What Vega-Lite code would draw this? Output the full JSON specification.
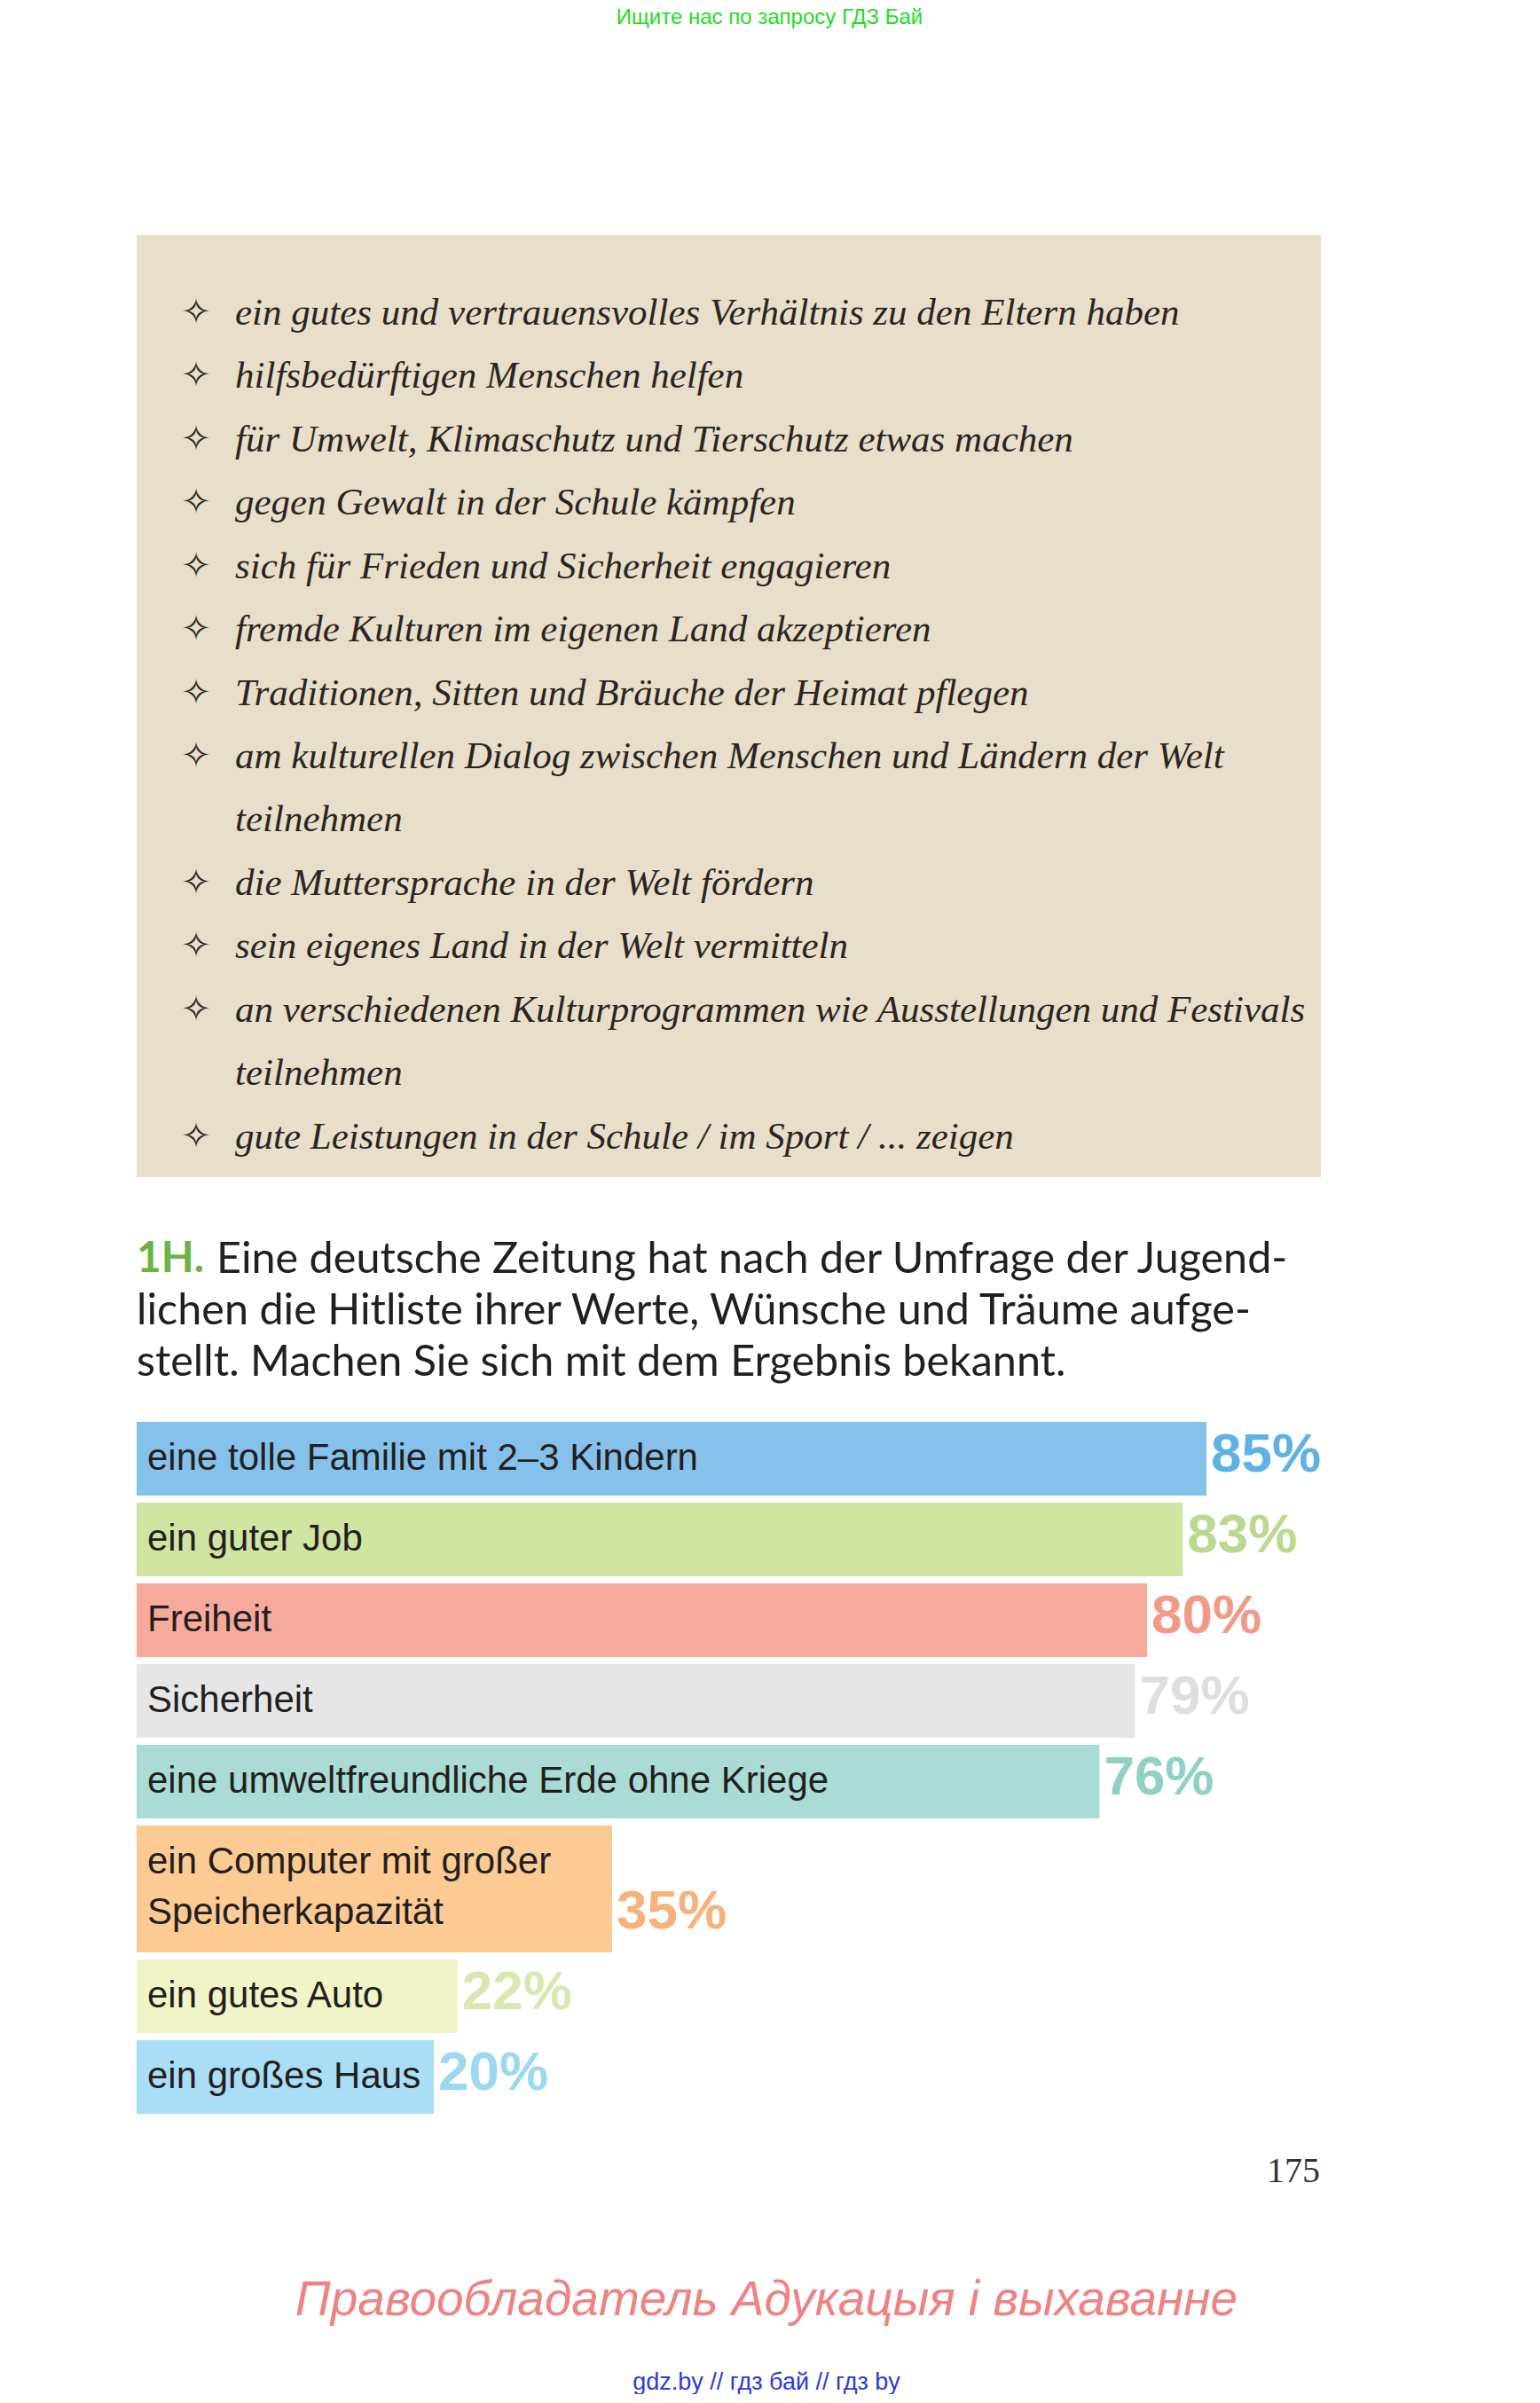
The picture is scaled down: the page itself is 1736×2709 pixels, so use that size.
{
  "$schema": "https://vega.github.io/schema/vega-lite/v6.json",
  "background": "white",
  "padding": {"left": 154, "top": 8, "right": 0, "bottom": 0},
  "autosize": {"type": "pad"},
  "config": {"view": {"stroke": null}, "font": "Liberation Sans"},
  "datasets": {
    "list": [
      {"n": 1, "bullet": "✧", "text": "ein gutes und vertrauensvolles Verhältnis zu den Eltern haben"},
      {"n": 2, "bullet": "✧", "text": "hilfsbedürftigen Menschen helfen"},
      {"n": 3, "bullet": "✧", "text": "für Umwelt, Klimaschutz und Tierschutz etwas machen"},
      {"n": 4, "bullet": "✧", "text": "gegen Gewalt in der Schule kämpfen"},
      {"n": 5, "bullet": "✧", "text": "sich für Frieden und Sicherheit engagieren"},
      {"n": 6, "bullet": "✧", "text": "fremde Kulturen im eigenen Land akzeptieren"},
      {"n": 7, "bullet": "✧", "text": "Traditionen, Sitten und Bräuche der Heimat pflegen"},
      {"n": 8, "bullet": "✧", "text": "am kulturellen Dialog zwischen Menschen und Ländern der Welt"},
      {"n": 9, "bullet": "", "text": "teilnehmen"},
      {"n": 10, "bullet": "✧", "text": "die Muttersprache in der Welt fördern"},
      {"n": 11, "bullet": "✧", "text": "sein eigenes Land in der Welt vermitteln"},
      {"n": 12, "bullet": "✧", "text": "an verschiedenen Kulturprogrammen wie Ausstellungen und Festivals"},
      {"n": 13, "bullet": "", "text": "teilnehmen"},
      {"n": 14, "bullet": "✧", "text": "gute Leistungen in der Schule / im Sport / ... zeigen"}
    ],
    "heading": [
      {"line": 1, "text": "Eine deutsche Zeitung hat nach der Umfrage der Jugend-"},
      {"line": 2, "text": "lichen die Hitliste ihrer Werte, Wünsche und Träume aufge-"},
      {"line": 3, "text": "stellt. Machen Sie sich mit dem Ergebnis bekannt."}
    ],
    "values": [
      {"item": "eine tolle Familie mit 2–3 Kindern", "pct": 0.85, "lines": 1},
      {"item": "ein guter Job", "pct": 0.83, "lines": 1},
      {"item": "Freiheit", "pct": 0.80, "lines": 1},
      {"item": "Sicherheit", "pct": 0.79, "lines": 1},
      {"item": "eine umweltfreundliche Erde ohne Kriege", "pct": 0.76, "lines": 1},
      {"item": "ein Computer mit großer\nSpeicherkapazität", "pct": 0.35, "lines": 2},
      {"item": "ein gutes Auto", "pct": 0.22, "lines": 1},
      {"item": "ein großes Haus", "pct": 0.20, "lines": 1}
    ],
    "footer": [
      {"page": "175"}
    ]
  },
  "spacing": 0,
  "vconcat": [
    {
      "width": 1335,
      "height": 1062,
      "view": {"fill": "#e7dfca", "stroke": null},
      "title": {
        "text": "Ищите нас по запросу ГДЗ Бай",
        "color": "#22dd22",
        "fontSize": 24,
        "fontWeight": "normal",
        "font": "Liberation Sans",
        "anchor": "middle",
        "dx": 46,
        "offset": 233
      },
      "data": {"name": "list"},
      "encoding": {
        "y": {"field": "n", "type": "ordinal", "axis": null, "scale": {"type": "point", "padding": 0.93, "align": 0.66}}
      },
      "layer": [
        {
          "mark": {"type": "text", "align": "center", "baseline": "middle", "font": "DejaVu Sans", "fontSize": 40, "color": "#2b2521", "dx": 67},
          "encoding": {"x": {"value": 0}, "text": {"field": "bullet"}}
        },
        {
          "mark": {"type": "text", "align": "left", "baseline": "middle", "font": "Liberation Serif", "fontStyle": "italic", "fontSize": 43, "color": "#2b2521", "dx": 111},
          "encoding": {"x": {"value": 0}, "text": {"field": "text"}}
        }
      ]
    },
    {
      "width": 1335,
      "height": 232,
      "data": {"name": "heading"},
      "encoding": {
        "y": {"field": "line", "type": "ordinal", "axis": null, "scale": {"type": "point", "padding": 1, "align": 0.8}}
      },
      "layer": [
        {
          "transform": [{"filter": "datum.line == 1"}],
          "mark": {"type": "text", "align": "left", "baseline": "middle", "font": "Lato", "fontSize": 48, "fontWeight": "bold", "color": "#6ab344"},
          "encoding": {"x": {"value": 0}, "text": {"value": "1H."}}
        },
        {
          "transform": [{"filter": "datum.line == 1"}],
          "mark": {"type": "text", "align": "left", "baseline": "middle", "font": "Lato", "fontSize": 48.5, "color": "#231f20", "dx": 90},
          "encoding": {"x": {"value": 0}, "text": {"field": "text"}}
        },
        {
          "transform": [{"filter": "datum.line > 1"}],
          "mark": {"type": "text", "align": "left", "baseline": "middle", "font": "Lato", "fontSize": 48.5, "color": "#231f20"},
          "encoding": {"x": {"value": 0}, "text": {"field": "text"}}
        }
      ]
    },
    {
      "width": 1407,
      "height": 826,
      "data": {"name": "values"},
      "transform": [
        {"stack": "lines", "groupby": [], "sort": [{"field": "pct", "order": "descending"}], "as": ["y0", "y1"]}
      ],
      "encoding": {
        "y": {"field": "y0", "type": "quantitative", "axis": null, "scale": {"domain": [0, 5, 7, 9], "range": [38, 493, 644, 826]}}
      },
      "layer": [
        {
          "mark": {"type": "rect", "yOffset": 4, "y2Offset": -4},
          "encoding": {
            "y2": {"field": "y1"},
            "x": {"field": "pct", "type": "quantitative", "axis": null, "scale": {"domain": [-0.05, 1], "nice": false, "zero": false}},
            "x2": {"datum": -0.05},
            "color": {
              "field": "item", "type": "nominal", "legend": null,
              "scale": {
                "domain": ["eine tolle Familie mit 2–3 Kindern", "ein guter Job", "Freiheit", "Sicherheit", "eine umweltfreundliche Erde ohne Kriege", "ein Computer mit großer\nSpeicherkapazität", "ein gutes Auto", "ein großes Haus"],
                "range": ["#85c1ea", "#d1e4a1", "#f6aa9c", "#e6e6e6", "#aadcd5", "#fccb93", "#f1f4c6", "#a9def6"]
              }
            }
          }
        },
        {
          "mark": {"type": "text", "align": "left", "baseline": "middle", "dx": 12, "yOffset": 45, "fontSize": 42, "color": "#231f20", "lineBreak": "\n", "lineHeight": 57},
          "encoding": {
            "x": {"datum": -0.05},
            "text": {"field": "item"}
          }
        },
        {
          "mark": {"type": "text", "align": "left", "baseline": "middle", "dx": 5, "yOffset": -50, "fontSize": 62, "fontWeight": "bold"},
          "encoding": {
            "x": {"field": "pct", "type": "quantitative"},
            "y": {"field": "y1", "type": "quantitative"},
            "text": {"field": "pct", "format": ".0%"},
            "color": {
              "field": "item", "type": "nominal", "legend": null,
              "scale": {
                "domain": ["eine tolle Familie mit 2–3 Kindern", "ein guter Job", "Freiheit", "Sicherheit", "eine umweltfreundliche Erde ohne Kriege", "ein Computer mit großer\nSpeicherkapazität", "ein gutes Auto", "ein großes Haus"],
                "range": ["#5eb3e4", "#bcd98f", "#f29a88", "#dedede", "#8fd2c5", "#f7b17d", "#d9e7b0", "#9dd8f3"]
              }
            }
          }
        }
      ],
      "resolve": {"scale": {"color": "independent"}}
    },
    {
      "width": 1426,
      "height": 122,
      "data": {"name": "footer"},
      "title": {
        "text": "Правообладатель Адукацыя і выхаванне",
        "subtitle": "gdz.by // гдз бай // гдз by",
        "orient": "bottom",
        "anchor": "middle",
        "dx": -3,
        "offset": 58,
        "font": "Liberation Sans",
        "fontSize": 55,
        "fontStyle": "italic",
        "fontWeight": "normal",
        "color": "#ef8282",
        "subtitleFont": "Liberation Sans",
        "subtitleFontSize": 27,
        "subtitleColor": "#2b3bd9",
        "subtitlePadding": 51
      },
      "mark": {"type": "text", "align": "right", "baseline": "middle", "dx": 621, "font": "Liberation Serif", "fontSize": 40, "color": "#333333"},
      "encoding": {"text": {"field": "page"}}
    }
  ]
}
